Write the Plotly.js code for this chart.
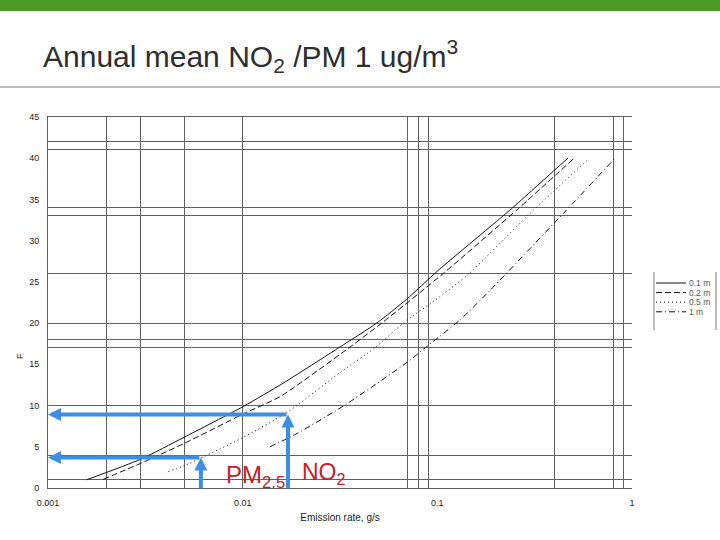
<!DOCTYPE html>
<html>
<head>
<meta charset="utf-8">
<script src="https://cdn.plot.ly/plotly-3.0.1.min.js"></script>
<style>
  html, body { margin: 0; padding: 0; background: #ffffff; }
  #chart { width: 720px; height: 540px; }
</style>
</head>
<body>
<div id="chart"></div>
<script>
// ---- Data ----
const seriesNames = ['0.1 m', '0.2 m', '0.5 m', '1 m'];

const rate01 = [0.00158, 0.003, 0.005, 0.0101, 0.0161, 0.0316, 0.0488, 0.0696, 0.1, 0.241, 0.402, 0.468];
const conc01 = [1.0, 3.5, 6.15, 9.9, 12.7, 17.1, 20.0, 22.9, 26.3, 33.9, 38.6, 40.0];

const rate02 = [0.00192, 0.003, 0.005, 0.0101, 0.0156, 0.0316, 0.0518, 0.107, 0.261, 0.499];
const conc02 = [1.05, 3.0, 5.4, 9.0, 11.1, 16.2, 20.0, 26.0, 33.9, 39.9];

const rate05 = [0.00415, 0.005, 0.01, 0.0171, 0.0316, 0.0478, 0.0668, 0.103, 0.144, 0.293, 0.597];
const conc05 = [2.0, 2.7, 6.1, 9.25, 14.0, 17.0, 20.0, 23.2, 25.9, 33.1, 39.9];

const rate1 = [0.0138, 0.019, 0.0342, 0.0724, 0.0865, 0.103, 0.131, 0.187, 0.444, 0.818];
const conc1 = [5.0, 6.6, 10.2, 15.5, 17.0, 18.4, 20.4, 24.0, 33.3, 40.0];

// read-off arrows: emission rate -> annual mean concentration
const arrowPollutants = ['PM<sub>2.5</sub>', 'NO<sub>2</sub>'];
const arrowRates = [0.0061, 0.0171];
const arrowConcs = [3.7, 8.9];

// axis ticks and (irregular, scanned) grid lines
const xTickVals = [0.001, 0.01, 0.1, 1];
const xTickText = ['0.001', '0.01', '0.1', '1'];
const xGridVals = [0.002, 0.003, 0.005, 0.01, 0.07, 0.08, 0.09, 0.4, 0.8, 0.9];
const yTickVals = [0, 5, 10, 15, 20, 25, 30, 35, 40, 45];
const yGridVals = [1, 4, 10, 17, 18, 20, 26, 33, 34, 41, 42];

// ---- Styles ----
const dashes = ['solid', '6px,3px', '1px,3px', '6px,3px,1px,3px'];
const rates = [rate01, rate02, rate05, rate1];
const concs = [conc01, conc02, conc05, conc1];
const BLUE = '#3d8ee6';
const RED = '#c8202a';
const GRID = '#606060';
const FONT = 'Liberation Sans, Arial, sans-serif';

// plot-area geometry in pixels (used for paper-coordinate decorations)
const W = 720, H = 540, L = 48, R = 88, T = 117, B = 52;
const PW = W - L - R, PH = H - T - B;
const px = v => (v - L) / PW;
const py = v => (H - B - v) / PH;

const traces = seriesNames.map((name, i) => ({
  type: 'scatter',
  mode: 'lines',
  name: name,
  x: rates[i],
  y: concs[i],
  line: { color: '#111111', width: 1, dash: dashes[i], shape: 'spline', smoothing: 0.6 },
  hoverinfo: 'skip',
  showlegend: false
}));

const annotations = [];
const shapes = [
  { type: 'rect', xref: 'paper', yref: 'paper', x0: px(-20), x1: px(740), y0: py(11), y1: py(-20),
    fillcolor: '#4a9a26', line: { width: 0 }, layer: 'below' },
  { type: 'line', xref: 'paper', yref: 'paper', x0: px(-20), x1: px(740), y0: py(87), y1: py(87),
    line: { color: '#a6a6a6', width: 1.5 } },
  { type: 'line', xref: 'paper', yref: 'paper', x0: px(654), x1: px(654), y0: py(272), y1: py(330),
    line: { color: '#777777', width: 1 } },
  { type: 'line', xref: 'paper', yref: 'paper', x0: px(716), x1: px(716), y0: py(272), y1: py(330),
    line: { color: '#777777', width: 1 } }
];

// hand-made compact legend (box open at top and bottom, like the scan)
seriesNames.forEach((name, i) => {
  const yy = 283 + i * 9.6;
  shapes.push({
    type: 'line', xref: 'paper', yref: 'paper', x0: px(656), x1: px(686), y0: py(yy), y1: py(yy),
    line: { color: '#111111', width: 1, dash: dashes[i] }
  });
  annotations.push({
    xref: 'paper', yref: 'paper', x: px(687), y: py(yy), xanchor: 'left', yanchor: 'middle',
    showarrow: false, text: name, font: { family: FONT, size: 8.5, color: '#555555' }
  });
});

arrowRates.forEach((r, i) => {
  const lx = Math.log10(r);
  annotations.push({
    xref: 'x', yref: 'y', axref: 'x', ayref: 'y',
    x: lx, y: arrowConcs[i], ax: lx, ay: -0.2,
    text: '', showarrow: true, arrowhead: 2, arrowsize: 0.65,
    arrowwidth: 4, arrowcolor: BLUE, standoff: 0, startstandoff: 0
  });
  annotations.push({
    xref: 'x', yref: 'y', axref: 'x', ayref: 'y',
    x: Math.log10(xTickVals[0]), y: arrowConcs[i], ax: lx, ay: arrowConcs[i],
    text: '', showarrow: true, arrowhead: 2, arrowsize: 0.65,
    arrowwidth: 4, arrowcolor: BLUE, standoff: 0, startstandoff: 0
  });
});
const no2x = Math.log10(arrowRates[1]);
annotations.push({
  xref: 'x', yref: 'y', x: no2x, y: 0, xanchor: 'right', yanchor: 'bottom',
  xshift: -1, yshift: -6, showarrow: false, text: arrowPollutants[0],
  font: { family: FONT, size: 24, color: RED }
});
annotations.push({
  xref: 'x', yref: 'y', x: no2x, y: 0, xanchor: 'left', yanchor: 'bottom',
  xshift: 12, yshift: -2, showarrow: false, text: arrowPollutants[1],
  font: { family: FONT, size: 23, color: RED }
});
annotations.push({
  xref: 'paper', yref: 'y', x: 0, y: 16, xanchor: 'center', yanchor: 'middle',
  xshift: -28, showarrow: false, text: 'F', textangle: -90,
  font: { family: FONT, size: 9, color: '#222222' }
});

const layout = {
  width: W, height: H,
  margin: { l: L, r: R, t: T, b: B },
  paper_bgcolor: '#ffffff', plot_bgcolor: '#ffffff',
  showlegend: false,
  title: {
    text: 'Annual mean NO<sub>2</sub> /PM 1 ug/m<sup>3</sup>',
    font: { family: FONT, size: 30, color: '#2e2e2e' },
    xref: 'container', yref: 'container',
    x: 43 / W, xanchor: 'left', y: 1 - 56 / H, yanchor: 'middle'
  },
  xaxis: {
    type: 'log', range: [-3, 0],
    tickmode: 'array', tickvals: xTickVals, ticktext: xTickText,
    showgrid: false, zeroline: false, ticks: '',
    showline: true, linecolor: GRID, linewidth: 1, mirror: true,
    tickfont: { family: FONT, size: 9, color: '#222222' },
    ticklabelstandoff: 6,
    minor: { tickmode: 'array', tickvals: xGridVals, showgrid: true, gridcolor: GRID, gridwidth: 1, ticks: '' },
    title: { text: 'Emission rate, g/s', font: { family: FONT, size: 10, color: '#222222' }, standoff: 7 }
  },
  yaxis: {
    range: [0, 45],
    tickmode: 'array', tickvals: yTickVals,
    showgrid: false, zeroline: false, ticks: '',
    showline: true, linecolor: GRID, linewidth: 1, mirror: false,
    tickfont: { family: FONT, size: 9, color: '#222222' },
    ticklabelstandoff: 6,
    minor: { tickmode: 'array', tickvals: yGridVals, showgrid: true, gridcolor: GRID, gridwidth: 1, ticks: '' }
  },
  shapes: shapes,
  annotations: annotations
};

Plotly.newPlot('chart', traces, layout, { displayModeBar: false, staticPlot: true });
</script>
</body>
</html>
